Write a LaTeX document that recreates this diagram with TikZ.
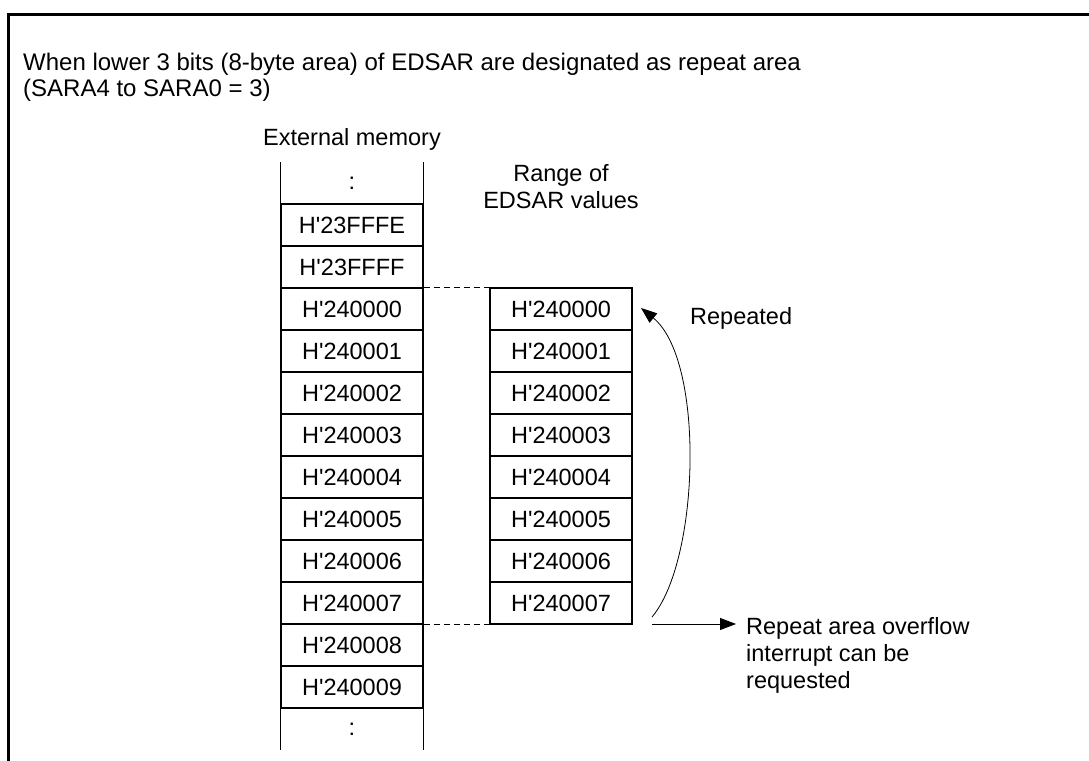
\documentclass[tikz,border=0pt]{standalone}
\usepackage{fontspec}
\setmainfont{Liberation Sans}[Ligatures=TeXOff]
\usetikzlibrary{arrows.meta,positioning}

\begin{document}
\begin{tikzpicture}[
  x=1pt, y=-1pt,
  every node/.style={font=\fontsize{23.5}{24}\selectfont, inner sep=0pt},
  cell/.style={draw, line width=1.3pt, minimum width=142pt, minimum height=42pt},
  blank/.style={minimum width=142pt, minimum height=42pt},
  arr/.style={-{Triangle[length=16pt, width=12pt]}, line width=0.8pt},
  link/.style={dash pattern=on 6pt off 4pt, line width=0.8pt},
]
\useasboundingbox (0,0) rectangle (1089,760);

% Frame (open at right and bottom)
\draw[line width=3pt] (8,765) -- (8,15) -- (1095,15);

% Heading
\node[anchor=north west, align=left, font=\fontsize{24}{25.5}\selectfont] (title) at (23,53)
  {When lower 3 bits (8-byte area) of EDSAR are designated as repeat area\\(SARA4 to SARA0 = 3)};

% External memory column
\node (memlabel) at (352,139) {External memory};
\node[blank] (m0) at (352,183) {:};
\foreach \lbl [count=\i] in {H'23FFFE,H'23FFFF,H'240000,H'240001,H'240002,H'240003,
                             H'240004,H'240005,H'240006,H'240007,H'240008,H'240009}
  \node[cell] (m\i) at (352,183+42*\i) {\lbl};
\node[blank] (m13) at (352,729) {:};
\draw[line width=1.3pt] (m0.north west) -- (m13.south west);
\draw[line width=1.3pt] (m0.north east) -- (m13.south east);

% Range of EDSAR values column
\node[align=center, font=\fontsize{23.5}{27}\selectfont] (rnglabel) at (561,187) {Range of\\EDSAR values};
\foreach \lbl [count=\i from 0] in {H'240000,H'240001,H'240002,H'240003,
                                   H'240004,H'240005,H'240006,H'240007}
  \node[cell] (r\i) at (561,309+42*\i) {\lbl};

% Dashed links between the columns
\draw[link] (m3.north east) -- (r0.north west);
\draw[link] (m10.south east) -- (r7.south west);

% Repeat arrow
\coordinate (rpfrom) at (652,617);
\coordinate (rpto) at (641,308);
\draw[arr] (rpfrom) .. controls (700,560) and (705,360) .. (rpto);
\node[anchor=west] (rep) at (690,318) {Repeated};

% Overflow arrow
\node[anchor=north west, align=left, font=\fontsize{23.5}{27}\selectfont] (ovf) at (746,617)
  {Repeat area overflow\\interrupt can be\\requested};
\coordinate (ovstart) at (652,624);
\draw[arr, shorten >=10pt] (ovstart) -- (ovstart -| ovf.west);

\end{tikzpicture}
\end{document}
